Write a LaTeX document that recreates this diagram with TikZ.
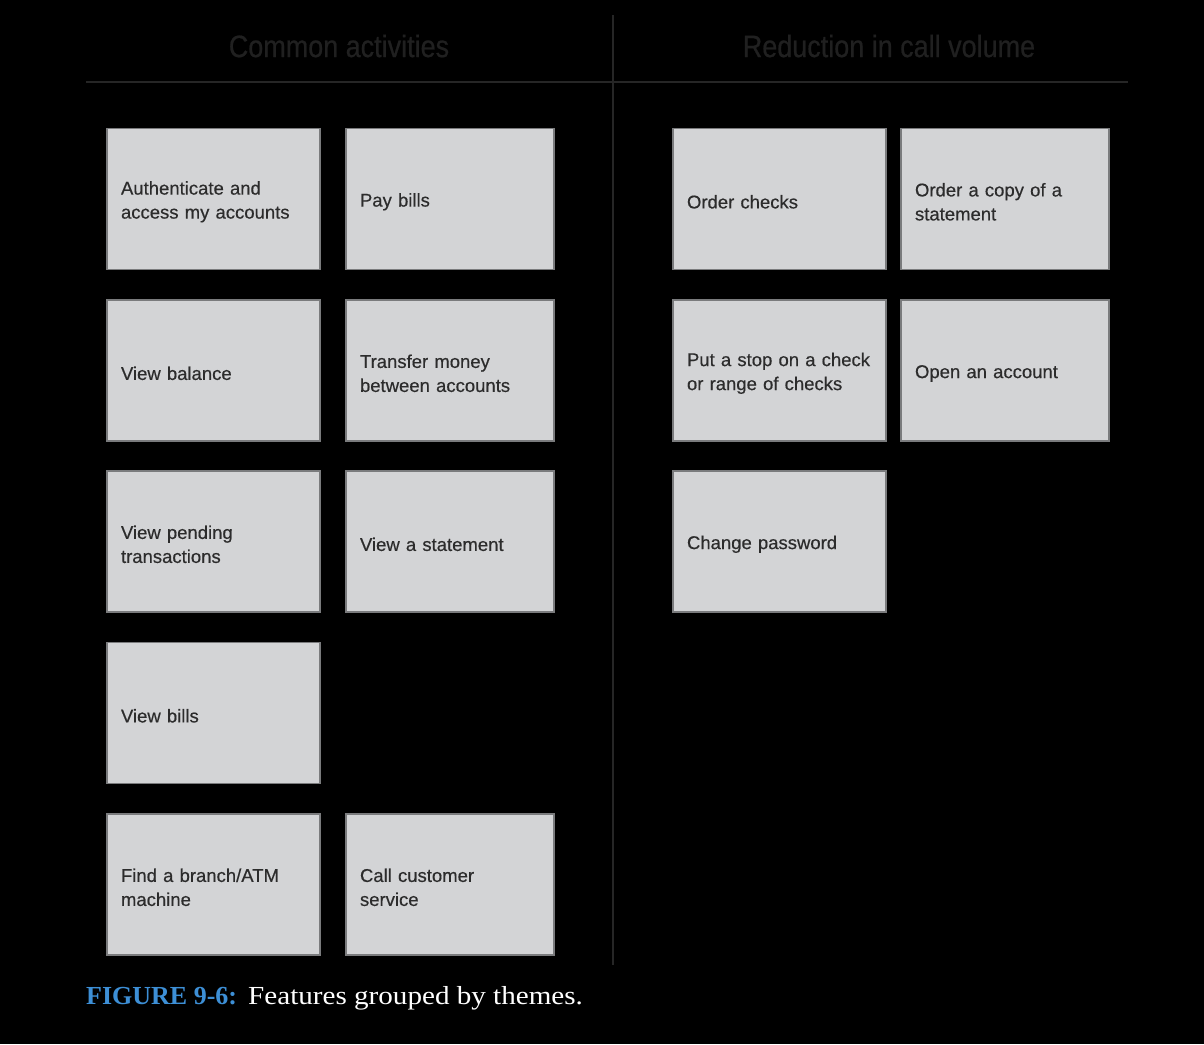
\documentclass[tikz,border=0pt]{standalone}
\usepackage{fontspec}
\newfontfamily\boxfont{Liberation Sans}[FakeBold=0.4]
\newfontfamily\headfont{Liberation Sans}[FakeStretch=0.87,FakeBold=0.6]
\newfontfamily\capfont{Liberation Serif}
\newfontfamily\capwidefont{Liberation Serif}[FakeStretch=1.12]
\definecolor{boxfill}{HTML}{D3D4D6}
\definecolor{boxline}{HTML}{7A7B7D}
\definecolor{boxtext}{HTML}{2C2C2C}
\definecolor{headtext}{HTML}{202020}
\definecolor{rule}{HTML}{262626}
\definecolor{capblue}{HTML}{3D8FD6}
\tikzset{
  feature/.style={draw=boxline, line width=1.5pt, fill=boxfill, minimum height=141pt,
    inner sep=0pt, align=left, text=boxtext, text height=19pt,
    font=\boxfont\fontsize{18.5}{24}\selectfont},
  widebox/.style={feature, minimum width=213pt, text width=185pt},
  narrowbox/.style={feature, minimum width=208pt, text width=180pt},
  header/.style={text=headtext, font=\headfont\fontsize{31}{36}\selectfont, inner sep=0pt},
}
\begin{document}
\begin{tikzpicture}[x=1pt,y=-1pt]
\fill[black] (0,0) rectangle (1204,1044);
\useasboundingbox (0,0) rectangle (1204,1044);
% rules
\draw[rule, line width=2pt] (86,82) -- (1128,82);
\draw[rule, line width=2pt] (613,15) -- (613,965);
% headers
\node[header] (h1) at (339,46) {Common activities};
\node[header] (h2) at (889,46) {Reduction in call volume};
% left group
\node[widebox] (a1) at (213.5,199) {Authenticate and\\access my accounts};
\node[narrowbox] (a2) at (450,199) {Pay bills};
\node[widebox] (b1) at (213.5,370.5) {View balance};
\node[narrowbox] (b2) at (450,370.5) {Transfer money\\between accounts};
\node[widebox] (c1) at (213.5,541.5) {View pending\\transactions};
\node[narrowbox] (c2) at (450,541.5) {View a statement};
\node[widebox] (d1) at (213.5,713) {View bills};
\node[widebox] (e1) at (213.5,884.5) {Find a branch/ATM\\machine};
\node[narrowbox] (e2) at (450,884.5) {Call customer\\service};
% right group
\node[widebox] (r1) at (779.5,199) {Order checks};
\node[narrowbox] (r2) at (1005,199) {Order a copy of a\\statement};
\node[widebox] (s1) at (779.5,370.5) {Put a stop on a check\\or range of checks};
\node[narrowbox] (s2) at (1005,370.5) {Open an account};
\node[widebox] (t1) at (779.5,541.5) {Change password};
% caption
\node[anchor=base west, inner sep=0pt, text=capblue, font=\capfont\bfseries\fontsize{26}{30}\selectfont] (capA) at (86,1004) {FIGURE 9-6:};
\node[anchor=base west, inner sep=0pt, text=white, font=\capwidefont\fontsize{26}{30}\selectfont] (capB) at (248,1004) {Features grouped by themes.};
\end{tikzpicture}
\end{document}
